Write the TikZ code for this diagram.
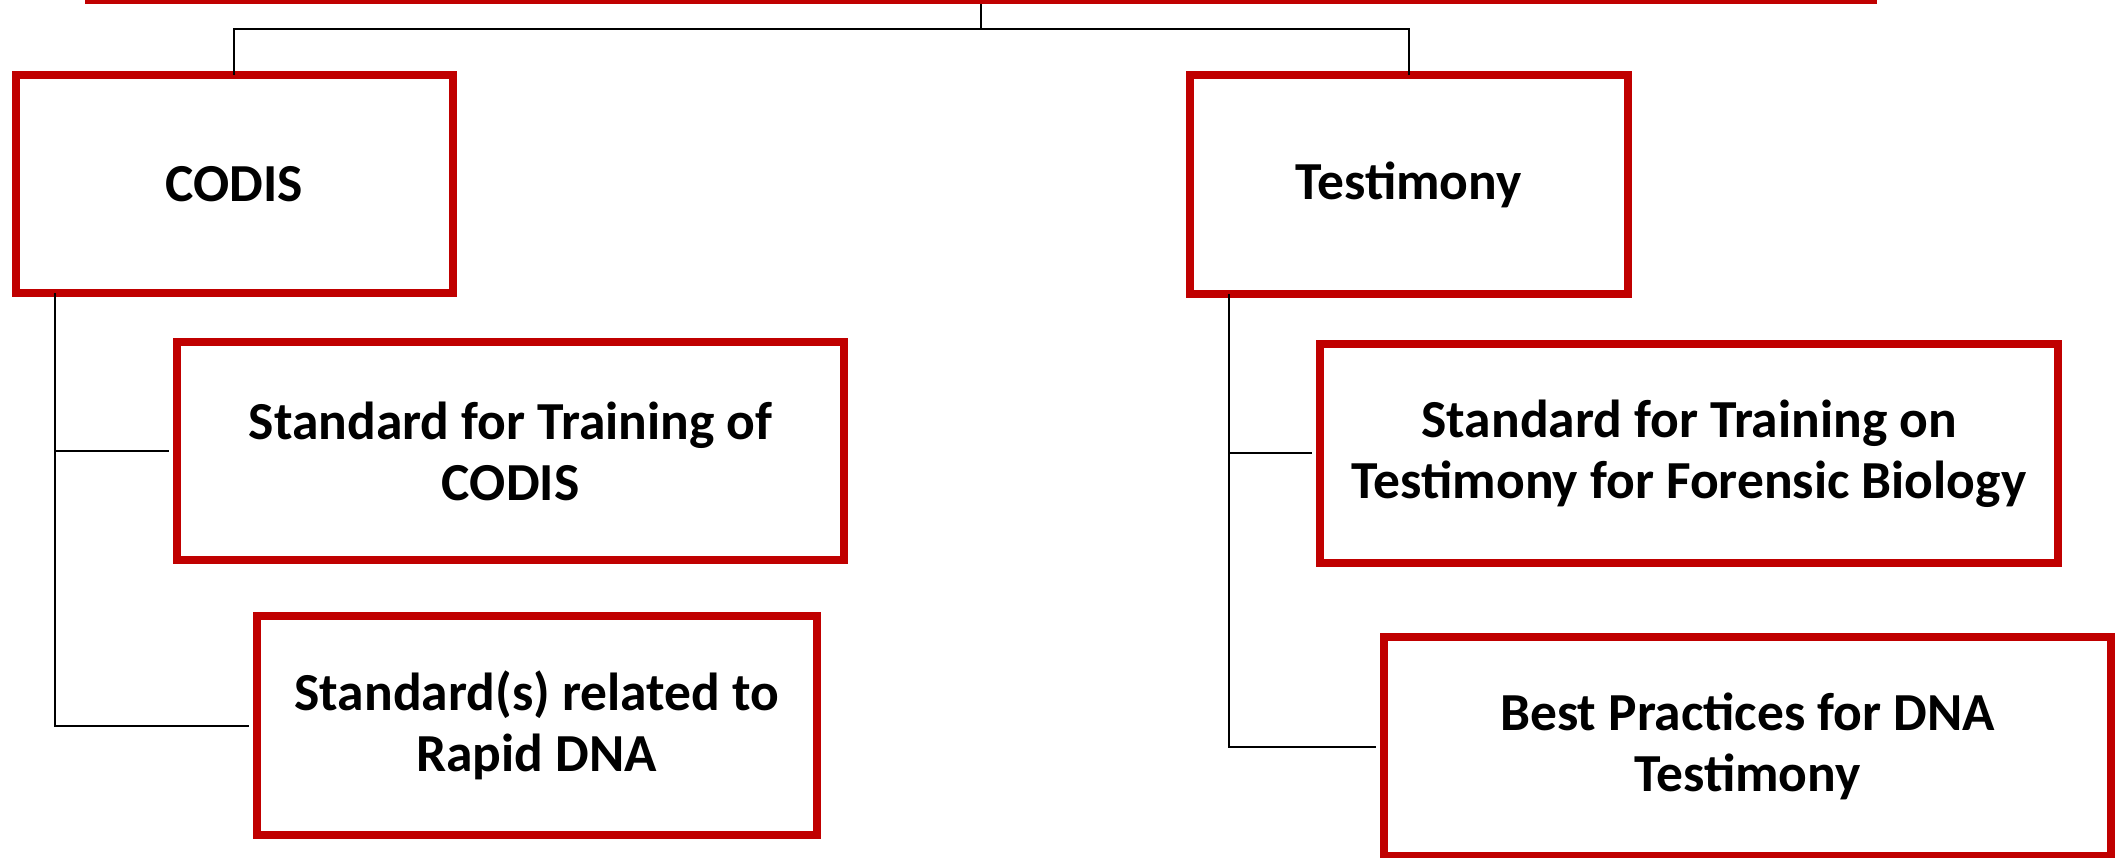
\documentclass[tikz,border=0pt]{standalone}
\usepackage{fontspec}
\setmainfont{Carlito}
\definecolor{bred}{RGB}{192,0,0}
\begin{document}
\begin{tikzpicture}[x=1pt,y=-1pt,
  box/.style={draw=bred, line width=8pt, fill=white, align=center, inner sep=0pt,
    font=\fontsize{53.5}{61}\selectfont\bfseries},
  conn/.style={draw=black, line width=2pt}]
\useasboundingbox (0,0) rectangle (2118,858);
\fill[bred] (85,0) rectangle (1877,4.3);
\node[box, minimum width=437.3pt, minimum height=218.3pt] (codis) at (234.35,184.15) {CODIS};
\node[box, minimum width=438pt, minimum height=219.3pt] (testi) at (1408.7,184.65) {Testimony};
\node[box, minimum width=666.7pt, minimum height=218.6pt] (b3) at (510.65,451) {Standard for Training of\\CODIS};
\node[box, minimum width=560pt, minimum height=218.8pt] (b4) at (536.7,725.7) {Standard(s) related to\\Rapid DNA};
\node[box, minimum width=738.3pt, minimum height=218.6pt] (b5) at (1689.15,453.3) {Standard for Training on\\Testimony for Forensic Biology};
\node[box, minimum width=726.7pt, minimum height=218.8pt] (b6) at (1747.7,746.7) {Best Practices for DNA\\Testimony};
\coordinate (top) at (981,4.3);
\coordinate (mid) at (981,29.5);
\draw[conn] (top) -- (mid) -| ([yshift=-4pt]codis.north);
\draw[conn] (mid) -| ([yshift=-4pt]testi.north);
\coordinate (ls) at ([xshift=43pt,yshift=4pt]codis.south west);
\coordinate (rs) at ([xshift=43.3pt,yshift=4pt]testi.south west);
\draw[conn] (ls) |- ([xshift=-4pt]b3.west);
\draw[conn] (ls) |- ([xshift=-4pt]b4.west);
\draw[conn] (rs) |- ([xshift=-4pt]b5.west);
\draw[conn] (rs) |- ([xshift=-4pt]b6.west);
\end{tikzpicture}
\end{document}
